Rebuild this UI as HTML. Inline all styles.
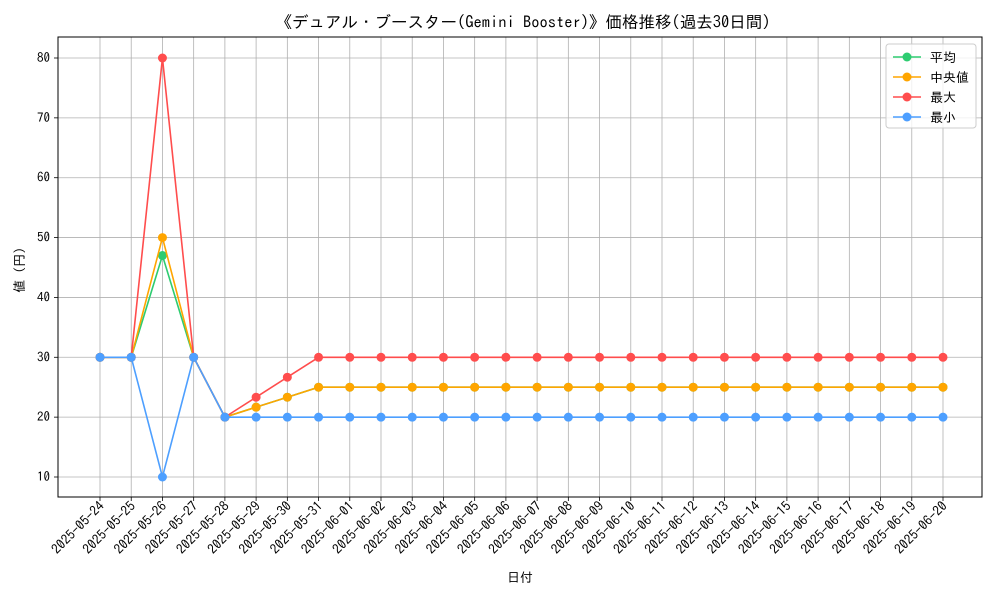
<!DOCTYPE html>
<html><head><meta charset="utf-8"><style>
body{margin:0;background:#fff;font-family:"IPAGothic","Liberation Sans",sans-serif}
svg text{font-family:"IPAGothic","Liberation Sans",sans-serif;fill:#000}
</style></head><body>
<svg id="c" width="1000" height="600" xmlns="http://www.w3.org/2000/svg"></svg>
<script>
const dates=["2025-05-24","2025-05-25","2025-05-26","2025-05-27","2025-05-28","2025-05-29","2025-05-30","2025-05-31","2025-06-01","2025-06-02","2025-06-03","2025-06-04","2025-06-05","2025-06-06","2025-06-07","2025-06-08","2025-06-09","2025-06-10","2025-06-11","2025-06-12","2025-06-13","2025-06-14","2025-06-15","2025-06-16","2025-06-17","2025-06-18","2025-06-19","2025-06-20"];
const avgVals=[30,30,47,30,20,21.67,23.33,25,25,25,25,25,25,25,25,25,25,25,25,25,25,25,25,25,25,25,25,25];
const medVals=[30,30,50,30,20,21.67,23.33,25,25,25,25,25,25,25,25,25,25,25,25,25,25,25,25,25,25,25,25,25];
const maxVals=[30,30,80,30,20,23.33,26.67,30,30,30,30,30,30,30,30,30,30,30,30,30,30,30,30,30,30,30,30,30];
const minVals=[30,30,10,30,20,20,20,20,20,20,20,20,20,20,20,20,20,20,20,20,20,20,20,20,20,20,20,20];
const yTicks=[10,20,30,40,50,60,70,80];
const seriesNames=["平均","中央値","最大","最小"];
const colors=["#2ecc71","#ffa500","#ff4d4d","#4d9fff"];
const NS="http://www.w3.org/2000/svg",svg=document.getElementById('c');
const L=58,R=982,T=37,B=497;
const x=i=>100+i*(943-100)/(dates.length-1);
const y=v=>477-(v-10)*(477-58)/70;
function mk(t,a,p){const e=document.createElementNS(NS,t);for(const k in a)e.setAttribute(k,a[k]);(p||svg).appendChild(e);return e;}
const g=mk('g',{});
dates.forEach((d,i)=>{mk('line',{x1:x(i),x2:x(i),y1:T,y2:B,stroke:'#b0b0b0','stroke-width':0.8},g);
 mk('line',{x1:x(i),x2:x(i),y1:B,y2:B+4,stroke:'#000','stroke-width':0.8});
 const t=mk('text',{x:x(i)+5,y:B+10,'font-size':13.5,'text-anchor':'end',transform:`rotate(-45 ${x(i)+5} ${B+10})`});t.textContent=d;
 });
yTicks.forEach(v=>{mk('line',{x1:L,x2:R,y1:y(v),y2:y(v),stroke:'#b0b0b0','stroke-width':0.8},g);
 mk('line',{x1:L-4,x2:L,y1:y(v),y2:y(v),stroke:'#000','stroke-width':0.8});
 const t=mk('text',{x:L-8,y:y(v)+4,'font-size':13,'text-anchor':'end'});t.textContent=v;
 });
[avgVals,medVals,maxVals,minVals].forEach((vals,s)=>{
 const gg=mk('g',{});
 mk('polyline',{points:vals.map((v,i)=>x(i)+','+y(v)).join(' '),fill:'none',stroke:colors[s],'stroke-width':1.6},gg);
 vals.forEach((v,i)=>{const c=mk('circle',{cx:x(i),cy:y(v),r:4.5,fill:colors[s]},gg);});
});
const fr=mk('rect',{x:L,y:T,width:R-L,height:B-T,fill:'none',stroke:'#000','stroke-width':1});
let t=mk('text',{x:523,y:28,'font-size':16.5,'text-anchor':'middle'});t.textContent="《デュアル・ブースター(Gemini Booster)》価格推移(過去30日間)";
t=mk('text',{x:520,y:582,'font-size':13,'text-anchor':'middle'});t.textContent="日付";
t=mk('text',{x:24,y:270,'font-size':13,'text-anchor':'middle',transform:'rotate(-90 24 270)'});t.textContent="値 (円)";
const lg=mk('g',{});
mk('rect',{x:886,y:44,width:90,height:84,rx:3,fill:'#fff','fill-opacity':0.8,stroke:'#ccc'},lg);
seriesNames.forEach((n,s)=>{const yy=57+s*20;
 mk('line',{x1:893,x2:921,y1:yy,y2:yy,stroke:colors[s],'stroke-width':1.6},lg);
 mk('circle',{cx:907,cy:yy,r:4.5,fill:colors[s]},lg);
 const tt=mk('text',{x:930,y:yy+5,'font-size':13},lg);tt.textContent=n;});
</script>
</body></html>
